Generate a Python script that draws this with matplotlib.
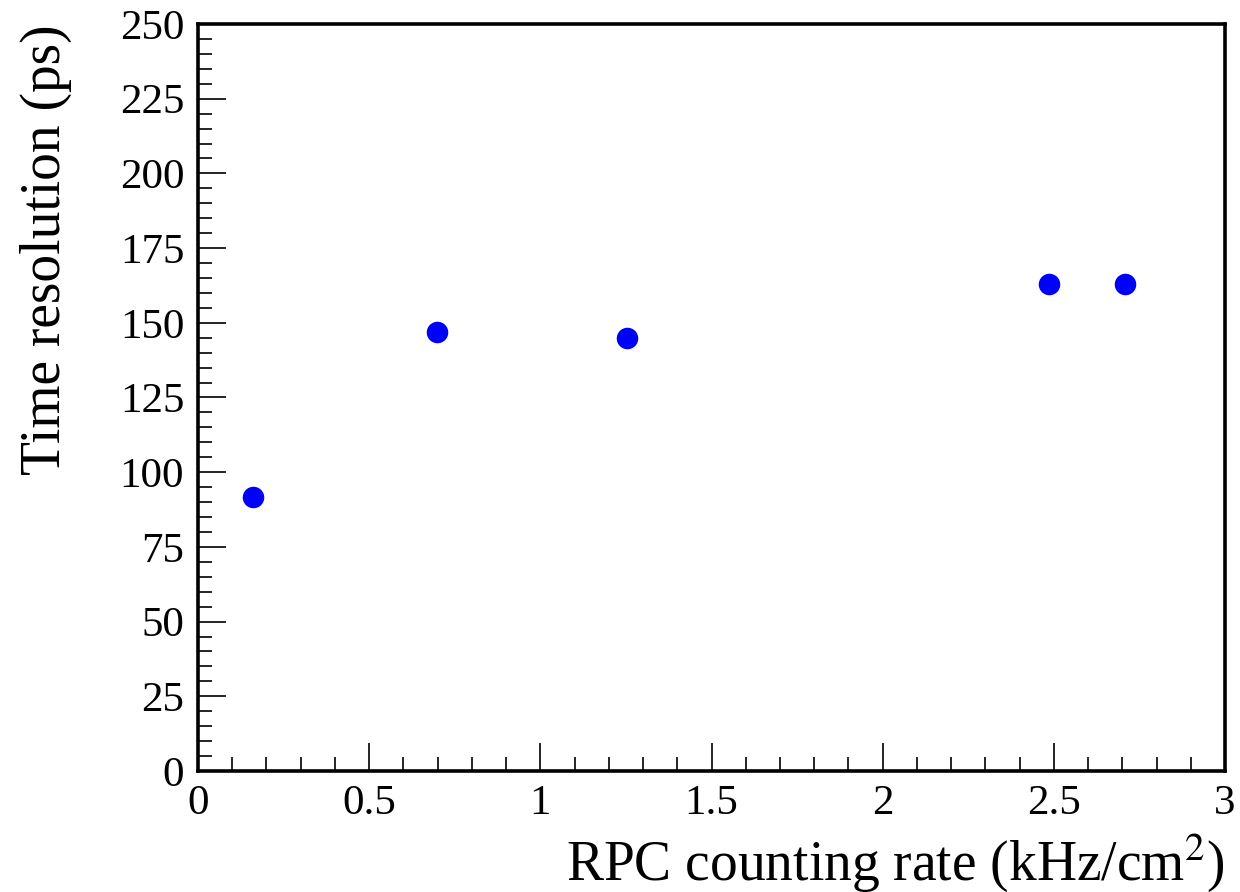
"""Time resolution versus RPC counting rate."""

import matplotlib
matplotlib.use("Agg")
import matplotlib.pyplot as plt
from matplotlib.ticker import MultipleLocator

# data
rate_khz_cm2 = [0.161, 0.698, 1.253, 2.486, 2.708]
time_resolution_ps = [91.8, 146.8, 144.8, 162.9, 162.9]

x_limits = (0, 3)
y_limits = (0, 250)

plt.rcParams["font.family"] = ["Liberation Serif", "DejaVu Serif"]
plt.rcParams["mathtext.fontset"] = "stix"

figure = plt.figure(figsize=(12.4, 8.92), dpi=100)
axes = figure.add_axes([0.1597, 0.1357, 0.8282, 0.8374])

axes.plot(rate_khz_cm2, time_resolution_ps, linestyle="none", marker="o",
          markersize=15.5, color="#0000ff", markeredgewidth=0)

axes.set_xlim(*x_limits)
axes.set_ylim(*y_limits)
axes.xaxis.set_major_locator(MultipleLocator(0.5))
axes.xaxis.set_minor_locator(MultipleLocator(0.1))
axes.yaxis.set_major_locator(MultipleLocator(25))
axes.yaxis.set_minor_locator(MultipleLocator(5))
axes.xaxis.set_major_formatter(matplotlib.ticker.FuncFormatter(lambda v, _: f"{v:g}"))

axes.tick_params(which="both", direction="in", top=False, right=False,
                 labelsize=31, color="black", width=1.2)
axes.tick_params(which="major", length=20, pad=10)
axes.tick_params(which="minor", length=10)
for spine in axes.spines.values():
    spine.set_linewidth(2.6)

axes.set_xlabel(r"RPC counting rate (kHz/cm$^{2}$)", fontsize=40, loc="right", labelpad=6)
axes.set_ylabel("Time resolution (ps)", fontsize=40, loc="top", labelpad=34)

figure.savefig("out.png", dpi=100)
